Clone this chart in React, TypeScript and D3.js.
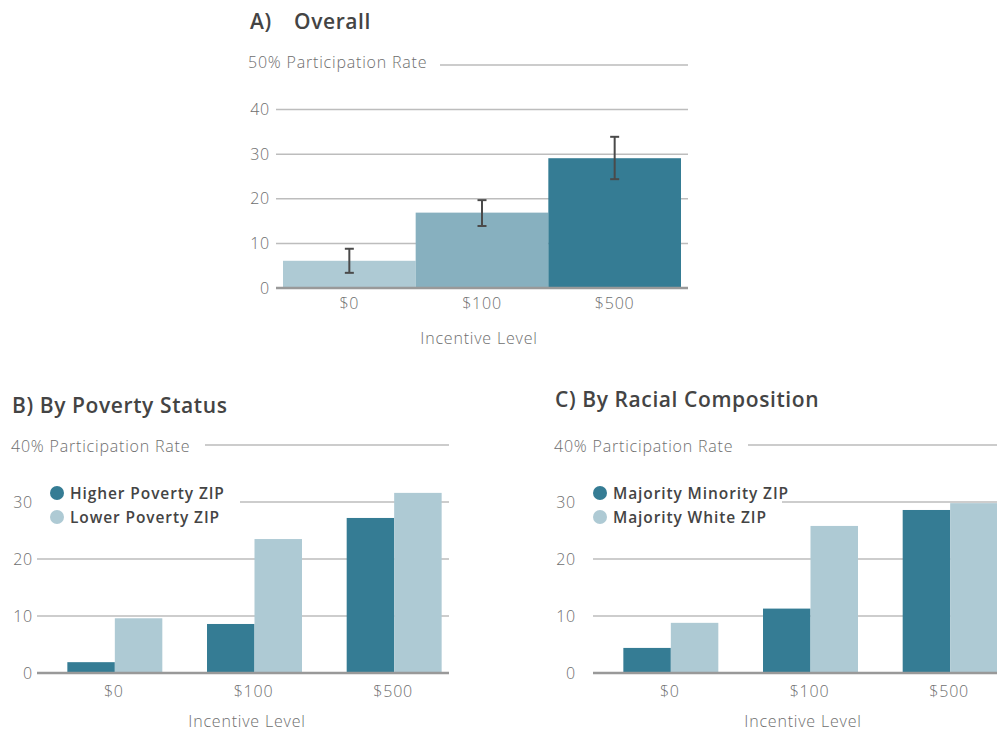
import * as d3 from "d3";

// ---- data ----
const incentives = ["$0", "$100", "$500"];

const overallRate = [6.1, 16.9, 29.1];
const overallLow = [3.4, 13.9, 24.4];
const overallHigh = [8.8, 19.7, 33.9];
const overallTicks = [0, 10, 20, 30, 40];

const povertySeries = ["Higher Poverty ZIP", "Lower Poverty ZIP"];
const higherPoverty = [1.9, 8.6, 27.2];
const lowerPoverty = [9.6, 23.5, 31.6];

const raceSeries = ["Majority Minority ZIP", "Majority White ZIP"];
const majorityMinority = [4.4, 11.3, 28.6];
const majorityWhite = [8.8, 25.8, 29.8];

const groupTicks = [0, 10, 20, 30];

const DARK = "#357c94";
const MID = "#87b0bf";
const LIGHT = "#aecad4";
const FONT = "'Open Sans', Lato, sans-serif";
const TICK_COLOR = "#6e6e6e";
const TITLE_COLOR = "#444";
const LIGHT_W = 300;
const BOLD_W = 600;

// shared text styles
const tickText = { fontSize: 16, fontWeight: LIGHT_W, fill: TICK_COLOR, letterSpacing: 0.8 };
const titleText = { fontSize: 21, fontWeight: BOLD_W, fill: TITLE_COLOR, letterSpacing: 0.6 };

function OverallPanel() {
  const y = d3.scaleLinear().domain([0, 50]).range([288, 65]);
  const x = d3.scaleBand().domain(incentives).range([283, 681]).padding(0);
  const fills = [LIGHT, MID, DARK];
  const gx0 = 276;
  const gx1 = 688;

  return (
    <g>
      <text x={250} y={28.5} {...titleText}>A)</text>
      <text x={294} y={28.5} {...titleText}>Overall</text>

      <text x={248} y={68} {...tickText}>50% Participation Rate</text>
      <line x1={440} x2={gx1} y1={y(50)} y2={y(50)} stroke="#999" strokeWidth={1.2} />

      {overallTicks.filter(t => t > 0).map(t => (
        <line key={t} x1={gx0} x2={gx1} y1={y(t)} y2={y(t)} stroke="#bdbdbd" strokeWidth={1.5} />
      ))}
      {overallTicks.map(t => (
        <text key={t} x={270} y={y(t)} dy="0.35em" textAnchor="end" {...tickText}>{t}</text>
      ))}

      {incentives.map((c, i) => (
        <rect key={c} x={x(c)} y={y(overallRate[i])} width={x.bandwidth()} height={y(0) - y(overallRate[i])} fill={fills[i]} />
      ))}

      <line x1={gx0} x2={gx1} y1={y(0)} y2={y(0)} stroke="#999" strokeWidth={2.5} />

      {incentives.map((c, i) => {
        const cx = (x(c) ?? 0) + x.bandwidth() / 2;
        return (
          <g key={c} stroke="#4a4a4a" strokeWidth={2}>
            <line x1={cx} x2={cx} y1={y(overallHigh[i])} y2={y(overallLow[i])} />
            <line x1={cx - 4.5} x2={cx + 4.5} y1={y(overallHigh[i])} y2={y(overallHigh[i])} />
            <line x1={cx - 4.5} x2={cx + 4.5} y1={y(overallLow[i])} y2={y(overallLow[i])} />
          </g>
        );
      })}

      {incentives.map(c => (
        <text key={c} x={(x(c) ?? 0) + x.bandwidth() / 2} y={309} textAnchor="middle" {...tickText}>{c}</text>
      ))}
      <text x={479} y={344} textAnchor="middle" {...tickText}>Incentive Level</text>
    </g>
  );
}

type GroupProps = {
  title: string;
  titleY: number;
  dx: number; // offset of text and legend
  barDx: number; // offset of the plot area
  gridX0: number;
  gridX1: number;
  legendCover: number;
  series: string[];
  values: number[][];
};

function GroupedPanel({ title, titleY, dx, barDx, gridX0, gridX1, legendCover, series, values }: GroupProps) {
  const y = d3.scaleLinear().domain([0, 40]).range([673, 445]);
  const x0 = d3
    .scaleBand()
    .domain(incentives)
    .range([45 + barDx, 464 + barDx])
    .paddingInner(0.32)
    .paddingOuter(0.16);
  const x1 = d3.scaleBand().domain(series).range([0, x0.bandwidth()]).padding(0);
  const color = d3.scaleOrdinal<string, string>().domain(series).range([DARK, LIGHT]);
  const left = 11 + dx;

  return (
    <g>
      <text x={left + 1} y={titleY} {...titleText}>{title}</text>

      <text x={left} y={452} {...tickText}>40% Participation Rate</text>
      <line x1={205 + dx} x2={gridX1} y1={y(40)} y2={y(40)} stroke="#999" strokeWidth={1.2} />

      {groupTicks.filter(t => t > 0).map(t => (
        <line key={t} x1={gridX0} x2={gridX1} y1={y(t)} y2={y(t)} stroke="#bdbdbd" strokeWidth={1.5} />
      ))}
      {groupTicks.map(t => (
        <text key={t} x={33 + dx} y={y(t)} dy="0.35em" textAnchor="end" {...tickText}>{t}</text>
      ))}

      {/* legend sits on a white patch that hides the 30 gridline */}
      <rect x={gridX0} y={482} width={legendCover - gridX0} height={44} fill="#fff" />
      {series.map((s, i) => (
        <g key={s} transform={`translate(${57 + dx},${493 + i * 24})`}>
          <circle r={7} cx={0} cy={0} fill={color(s)} />
          <text x={13} y={0} dy="0.36em" fontSize={15.5} fontWeight={BOLD_W} fill={TITLE_COLOR} letterSpacing={0.9}>{s}</text>
        </g>
      ))}

      {incentives.map((c, i) => (
        <g key={c} transform={`translate(${x0(c)},0)`}>
          {series.map((s, j) => (
            <rect key={s} x={x1(s)} y={y(values[j][i])} width={x1.bandwidth()} height={y(0) - y(values[j][i])} fill={color(s)} />
          ))}
        </g>
      ))}

      <line x1={gridX0} x2={gridX1} y1={y(0)} y2={y(0)} stroke="#999" strokeWidth={2.5} />

      {incentives.map(c => (
        <text key={c} x={(x0(c) ?? 0) + x0.bandwidth() / 2 - 1} y={697} textAnchor="middle" {...tickText}>{c}</text>
      ))}
      <text x={247 + barDx} y={727} textAnchor="middle" {...tickText}>Incentive Level</text>
    </g>
  );
}

export default function App() {
  return (
    <svg
      width={997}
      height={733}
      viewBox="0 0 997 733"
      style={{ position: "absolute", left: 0, top: 0, background: "#fff", fontFamily: FONT }}
    >
      <OverallPanel />
      <GroupedPanel
        title="B) By Poverty Status"
        titleY={413}
        dx={0}
        barDx={0}
        gridX0={37}
        gridX1={449}
        legendCover={240}
        series={povertySeries}
        values={[higherPoverty, lowerPoverty]}
      />
      <GroupedPanel
        title="C) By Racial Composition"
        titleY={407}
        dx={543}
        barDx={556}
        gridX0={593}
        gridX1={997}
        legendCover={782}
        series={raceSeries}
        values={[majorityMinority, majorityWhite]}
      />
    </svg>
  );
}
